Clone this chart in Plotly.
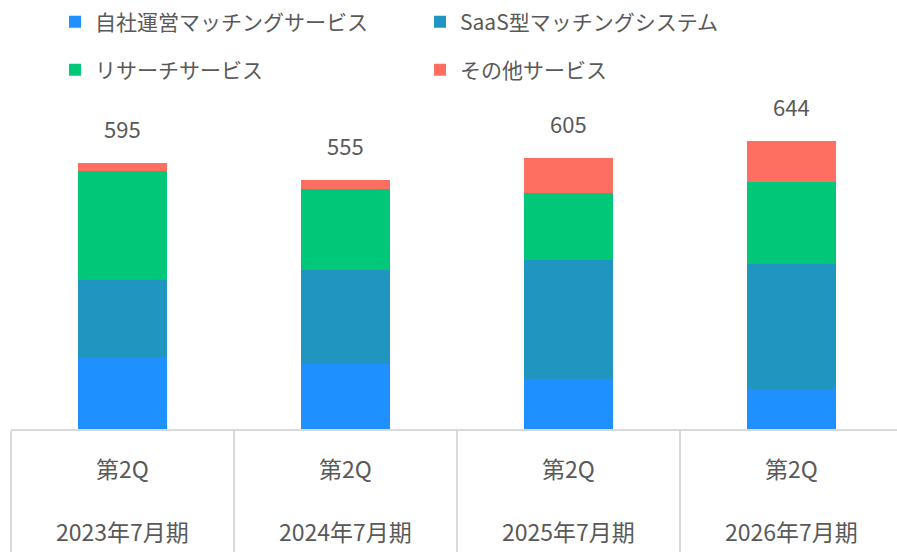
import plotly.graph_objects as go

# カテゴリとセグメント別の値
periods = ["2023年7月期", "2024年7月期", "2025年7月期", "2026年7月期"]
quarters = ["第2Q", "第2Q", "第2Q", "第2Q"]
own_matching = [161, 146, 111, 89]
saas_matching = [172, 209, 266, 279]
research = [243, 181, 150, 183]
other = [19, 19, 78, 93]
totals = [a + b + c + d for a, b, c, d in zip(own_matching, saas_matching, research, other)]

FONT = "Noto Sans CJK JP"
GRAY = "#595959"
LINE = "#D9D9D9"

series = [
    ("自社運営マッチングサービス", own_matching, "#1E90FF", "legend"),
    ("SaaS型マッチングシステム", saas_matching, "#1F95BF", "legend"),
    ("リサーチサービス", research, "#00C878", "legend2"),
    ("その他サービス", other, "#FF6F61", "legend2"),
]

fig = go.Figure()
for name, vals, color, leg in series:
    fig.add_trace(go.Bar(
        x=periods, y=vals, name=name, legend=leg,
        marker=dict(color=color, line=dict(width=0)),
        width=0.4, hoverinfo="skip",
    ))

annotations = []
# 合計ラベル
for p, t in zip(periods, totals):
    annotations.append(dict(
        x=p, y=t, text=str(t), showarrow=False, yanchor="middle", yshift=35,
        font=dict(size=22, color=GRAY, family=FONT),
    ))
# カテゴリラベル（2段）
for p, q in zip(periods, quarters):
    annotations.append(dict(
        x=p, y=0, yref="paper", text=q, showarrow=False, yanchor="middle", yshift=-39,
        font=dict(size=23, color=GRAY, family=FONT),
    ))
    annotations.append(dict(
        x=p, y=0, yref="paper", text=p, showarrow=False, yanchor="middle", yshift=-102,
        font=dict(size=23, color=GRAY, family=FONT),
    ))

legend_style = dict(
    orientation="h", x=0.0497, xanchor="left", yanchor="middle",
    entrywidth=320, traceorder="normal", bgcolor="rgba(0,0,0,0)",
    font=dict(size=21, color=GRAY, family=FONT),
)

fig.update_layout(
    barmode="stack",
    width=897, height=552,
    margin=dict(l=11, r=0, t=90, b=123, autoexpand=False),
    paper_bgcolor="white", plot_bgcolor="white",
    font=dict(family=FONT, color=GRAY),
    legend=dict(legend_style, y=1.2006),
    legend2=dict(legend_style, y=1.059),
    annotations=annotations,
    xaxis=dict(
        type="category", range=[-0.5, 3.473], automargin=False,
        showline=True, linecolor=LINE, linewidth=2,
        ticks="outside", tickson="boundaries", ticklen=125,
        tickcolor=LINE, tickwidth=2,
        showticklabels=False, showgrid=False, zeroline=False,
    ),
    yaxis=dict(range=[0, 757], visible=False, showgrid=False, zeroline=False, automargin=False),
)

fig.write_html(
    "out.html",
    config={"displayModeBar": False},
    post_script="document.body.style.margin='0';",
)
